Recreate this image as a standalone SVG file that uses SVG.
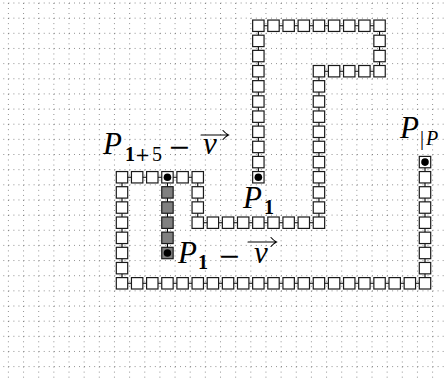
<svg xmlns="http://www.w3.org/2000/svg" xmlns:xlink="http://www.w3.org/1999/xlink" width="444" height="381" viewBox="0 0 444 381">
<style>
.grid{fill:none;stroke:#000;stroke-width:0.8;stroke-opacity:0.6;stroke-dasharray:0.9 4.15}
.path{fill:none;stroke:#000;stroke-width:1.1}
.m{font-family:"Liberation Serif","Times New Roman",serif;font-size:31px;fill:#000}
.i{font-style:italic}
.s{font-size:20px}
.b{font-weight:bold}
.op{font-family:"DejaVu Serif",serif;font-size:27px}
.ops{font-family:"DejaVu Serif",serif;font-size:18px}
.vec{fill:none;stroke:#000;stroke-width:1.1;stroke-linecap:round}
</style>
<defs>
<rect id="sq" x="-5.7" y="-5.7" width="11.4" height="11.4" fill="#fff" stroke="#1a1a1a" stroke-width="1.2"/>
<rect id="sqg" x="-5.7" y="-5.7" width="11.4" height="11.4" fill="#808080" stroke="#1a1a1a" stroke-width="1.2"/>
<circle id="dot" r="3.8" fill="#000"/>
</defs>
<rect width="444" height="381" fill="#fff"/>
<g id="grid">
<path class="grid" d="M8.4 -12.15V381M23.55 -12.15V381M38.7 -12.15V381M53.85 -12.15V381M69 -12.15V381M84.15 -12.15V381M99.3 -12.15V381M114.45 -12.15V381M129.6 -12.15V381M144.75 -12.15V381M159.9 -12.15V381M175.05 -12.15V381M190.2 -12.15V381M205.35 -12.15V381M220.5 -12.15V381M235.65 -12.15V381M250.8 -12.15V381M265.95 -12.15V381M281.1 -12.15V381M296.25 -12.15V381M311.4 -12.15V381M326.55 -12.15V381M341.7 -12.15V381M356.85 -12.15V381M372 -12.15V381M387.15 -12.15V381M402.3 -12.15V381M417.45 -12.15V381M432.6 -12.15V381"/>
<path class="grid" d="M-6.75 3H444M-6.75 18.15H444M-6.75 33.3H444M-6.75 48.45H444M-6.75 63.6H444M-6.75 78.75H444M-6.75 93.9H444M-6.75 109.05H444M-6.75 124.2H444M-6.75 139.35H444M-6.75 154.5H444M-6.75 169.65H444M-6.75 184.8H444M-6.75 199.95H444M-6.75 215.1H444M-6.75 230.25H444M-6.75 245.4H444M-6.75 260.55H444M-6.75 275.7H444M-6.75 290.85H444M-6.75 306H444M-6.75 321.15H444M-6.75 336.3H444M-6.75 351.45H444M-6.75 366.6H444"/>
</g>
<g id="connectors">
<path class="path" d="M258.35 177.25V25.75H379.55V71.2H318.95V222.7H197.75V177.25H122V283.3H425V162.1"/>
<path class="path" d="M167.45 253V177.25"/>
</g>
<g id="nodes">
<g id="p1"><use xlink:href="#sq" x="258.35" y="177.25"/><use xlink:href="#dot" x="258.35" y="177.25"/></g>
<g id="n9_8"><use xlink:href="#sq" x="258.35" y="162.1"/></g>
<g id="n9_9"><use xlink:href="#sq" x="258.35" y="146.95"/></g>
<g id="n9_10"><use xlink:href="#sq" x="258.35" y="131.8"/></g>
<g id="n9_11"><use xlink:href="#sq" x="258.35" y="116.65"/></g>
<g id="n9_12"><use xlink:href="#sq" x="258.35" y="101.5"/></g>
<g id="n9_13"><use xlink:href="#sq" x="258.35" y="86.35"/></g>
<g id="n9_14"><use xlink:href="#sq" x="258.35" y="71.2"/></g>
<g id="n9_15"><use xlink:href="#sq" x="258.35" y="56.05"/></g>
<g id="n9_16"><use xlink:href="#sq" x="258.35" y="40.9"/></g>
<g id="n9_17"><use xlink:href="#sq" x="258.35" y="25.75"/></g>
<g id="n10_17"><use xlink:href="#sq" x="273.5" y="25.75"/></g>
<g id="n11_17"><use xlink:href="#sq" x="288.65" y="25.75"/></g>
<g id="n12_17"><use xlink:href="#sq" x="303.8" y="25.75"/></g>
<g id="n13_17"><use xlink:href="#sq" x="318.95" y="25.75"/></g>
<g id="n14_17"><use xlink:href="#sq" x="334.1" y="25.75"/></g>
<g id="n15_17"><use xlink:href="#sq" x="349.25" y="25.75"/></g>
<g id="n16_17"><use xlink:href="#sq" x="364.4" y="25.75"/></g>
<g id="n17_17"><use xlink:href="#sq" x="379.55" y="25.75"/></g>
<g id="n17_16"><use xlink:href="#sq" x="379.55" y="40.9"/></g>
<g id="n17_15"><use xlink:href="#sq" x="379.55" y="56.05"/></g>
<g id="n17_14"><use xlink:href="#sq" x="379.55" y="71.2"/></g>
<g id="n16_14"><use xlink:href="#sq" x="364.4" y="71.2"/></g>
<g id="n15_14"><use xlink:href="#sq" x="349.25" y="71.2"/></g>
<g id="n14_14"><use xlink:href="#sq" x="334.1" y="71.2"/></g>
<g id="n13_14"><use xlink:href="#sq" x="318.95" y="71.2"/></g>
<g id="n13_13"><use xlink:href="#sq" x="318.95" y="86.35"/></g>
<g id="n13_12"><use xlink:href="#sq" x="318.95" y="101.5"/></g>
<g id="n13_11"><use xlink:href="#sq" x="318.95" y="116.65"/></g>
<g id="n13_10"><use xlink:href="#sq" x="318.95" y="131.8"/></g>
<g id="n13_9"><use xlink:href="#sq" x="318.95" y="146.95"/></g>
<g id="n13_8"><use xlink:href="#sq" x="318.95" y="162.1"/></g>
<g id="n13_7"><use xlink:href="#sq" x="318.95" y="177.25"/></g>
<g id="n13_6"><use xlink:href="#sq" x="318.95" y="192.4"/></g>
<g id="n13_5"><use xlink:href="#sq" x="318.95" y="207.55"/></g>
<g id="n13_4"><use xlink:href="#sq" x="318.95" y="222.7"/></g>
<g id="n12_4"><use xlink:href="#sq" x="303.8" y="222.7"/></g>
<g id="n11_4"><use xlink:href="#sq" x="288.65" y="222.7"/></g>
<g id="n10_4"><use xlink:href="#sq" x="273.5" y="222.7"/></g>
<g id="n9_4"><use xlink:href="#sq" x="258.35" y="222.7"/></g>
<g id="n8_4"><use xlink:href="#sq" x="243.2" y="222.7"/></g>
<g id="n7_4"><use xlink:href="#sq" x="228.05" y="222.7"/></g>
<g id="n6_4"><use xlink:href="#sq" x="212.9" y="222.7"/></g>
<g id="n5_4"><use xlink:href="#sq" x="197.75" y="222.7"/></g>
<g id="n5_5"><use xlink:href="#sq" x="197.75" y="207.55"/></g>
<g id="n5_6"><use xlink:href="#sq" x="197.75" y="192.4"/></g>
<g id="n5_7"><use xlink:href="#sq" x="197.75" y="177.25"/></g>
<g id="n4_7"><use xlink:href="#sq" x="182.6" y="177.25"/></g>
<g id="p6v"><use xlink:href="#sq" x="167.45" y="177.25"/><use xlink:href="#dot" x="167.45" y="177.25"/></g>
<g id="n2_7"><use xlink:href="#sq" x="152.3" y="177.25"/></g>
<g id="n1_7"><use xlink:href="#sq" x="137.15" y="177.25"/></g>
<g id="n0_7"><use xlink:href="#sq" x="122" y="177.25"/></g>
<g id="n0_6"><use xlink:href="#sq" x="122" y="192.4"/></g>
<g id="n0_5"><use xlink:href="#sq" x="122" y="207.55"/></g>
<g id="n0_4"><use xlink:href="#sq" x="122" y="222.7"/></g>
<g id="n0_3"><use xlink:href="#sq" x="122" y="237.85"/></g>
<g id="n0_2"><use xlink:href="#sq" x="122" y="253"/></g>
<g id="n0_1"><use xlink:href="#sq" x="122" y="268.15"/></g>
<g id="n0_0"><use xlink:href="#sq" x="122" y="283.3"/></g>
<g id="n1_0"><use xlink:href="#sq" x="137.15" y="283.3"/></g>
<g id="n2_0"><use xlink:href="#sq" x="152.3" y="283.3"/></g>
<g id="n3_0"><use xlink:href="#sq" x="167.45" y="283.3"/></g>
<g id="n4_0"><use xlink:href="#sq" x="182.6" y="283.3"/></g>
<g id="n5_0"><use xlink:href="#sq" x="197.75" y="283.3"/></g>
<g id="n6_0"><use xlink:href="#sq" x="212.9" y="283.3"/></g>
<g id="n7_0"><use xlink:href="#sq" x="228.05" y="283.3"/></g>
<g id="n8_0"><use xlink:href="#sq" x="243.2" y="283.3"/></g>
<g id="n9_0"><use xlink:href="#sq" x="258.35" y="283.3"/></g>
<g id="n10_0"><use xlink:href="#sq" x="273.5" y="283.3"/></g>
<g id="n11_0"><use xlink:href="#sq" x="288.65" y="283.3"/></g>
<g id="n12_0"><use xlink:href="#sq" x="303.8" y="283.3"/></g>
<g id="n13_0"><use xlink:href="#sq" x="318.95" y="283.3"/></g>
<g id="n14_0"><use xlink:href="#sq" x="334.1" y="283.3"/></g>
<g id="n15_0"><use xlink:href="#sq" x="349.25" y="283.3"/></g>
<g id="n16_0"><use xlink:href="#sq" x="364.4" y="283.3"/></g>
<g id="n17_0"><use xlink:href="#sq" x="379.55" y="283.3"/></g>
<g id="n18_0"><use xlink:href="#sq" x="394.7" y="283.3"/></g>
<g id="n19_0"><use xlink:href="#sq" x="409.85" y="283.3"/></g>
<g id="n20_0"><use xlink:href="#sq" x="425" y="283.3"/></g>
<g id="n20_1"><use xlink:href="#sq" x="425" y="268.15"/></g>
<g id="n20_2"><use xlink:href="#sq" x="425" y="253"/></g>
<g id="n20_3"><use xlink:href="#sq" x="425" y="237.85"/></g>
<g id="n20_4"><use xlink:href="#sq" x="425" y="222.7"/></g>
<g id="n20_5"><use xlink:href="#sq" x="425" y="207.55"/></g>
<g id="n20_6"><use xlink:href="#sq" x="425" y="192.4"/></g>
<g id="n20_7"><use xlink:href="#sq" x="425" y="177.25"/></g>
<g id="pP"><use xlink:href="#sq" x="425" y="162.1"/><use xlink:href="#dot" x="425" y="162.1"/></g>
<g id="g3_6"><use xlink:href="#sqg" x="167.45" y="192.4"/></g>
<g id="g3_5"><use xlink:href="#sqg" x="167.45" y="207.55"/></g>
<g id="g3_4"><use xlink:href="#sqg" x="167.45" y="222.7"/></g>
<g id="g3_3"><use xlink:href="#sqg" x="167.45" y="237.85"/></g>
<g id="p1v"><use xlink:href="#sqg" x="167.45" y="253"/><use xlink:href="#dot" x="167.45" y="253"/></g>
</g>
<g id="labels">
<text class="m" y="154"><tspan class="i" x="103">P</tspan><tspan class="s b" x="125" y="161">1</tspan><tspan class="ops" x="135" y="161">+</tspan><tspan class="s" x="152" y="161">5</tspan><tspan class="op" x="168" y="156">−</tspan><tspan class="i" x="203" y="154">v</tspan></text>
<path class="vec" d="M201 135H228M223 130.5Q225.5 133.5 228.5 135Q225.5 136.5 223 139.5"/>
<text class="m" y="263"><tspan class="i" x="178">P</tspan><tspan class="s b" x="198" y="269">1</tspan><tspan class="op" x="218" y="265">−</tspan><tspan class="i" x="254" y="263">v</tspan></text>
<path class="vec" d="M248 242H276M271 237.5Q273.5 240.5 276.5 242Q273.5 243.5 271 246.5"/>
<text class="m" y="208"><tspan class="i" x="243">P</tspan><tspan class="s b" x="264" y="214">1</tspan></text>
<text class="m" y="138"><tspan class="i" x="400">P</tspan><tspan class="s" x="420" y="145">|</tspan><tspan class="s i" x="426" y="145">P</tspan></text>
</g>
</svg>
